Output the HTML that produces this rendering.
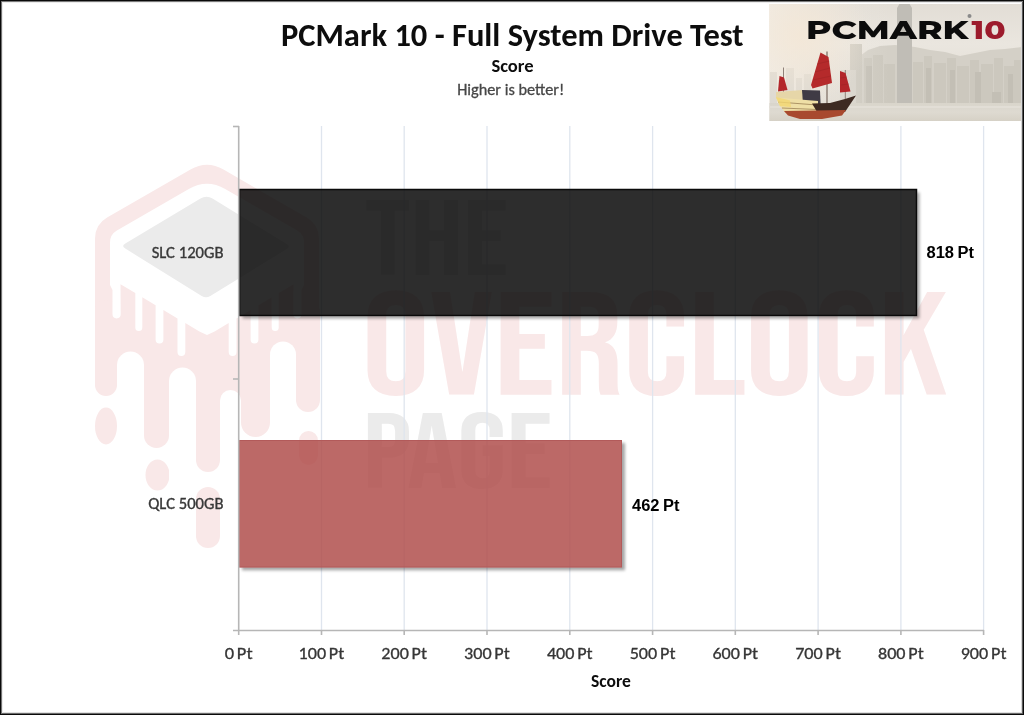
<!DOCTYPE html>
<html>
<head>
<meta charset="utf-8">
<title>PCMark 10 - Full System Drive Test</title>
<style>
html,body{margin:0;padding:0;background:#fff;}
body{width:1024px;height:715px;overflow:hidden;position:relative;}
svg{position:absolute;left:0;top:0;display:block;filter:blur(0.45px);}
.cal{font-family:Carlito,"Liberation Sans",sans-serif;}
.ari{font-family:"Liberation Sans",Arial,sans-serif;}
#frame{position:absolute;left:0;top:0;width:1024px;height:715px;box-sizing:border-box;
 border:1px solid #0a0a0a;
 box-shadow:inset 1px 0 0 #737373, inset 0 1px 0 #7a7a7a, inset -1px 0 0 #5a5a5a, inset 0 -1px 0 #6a6a6a,
  inset 2px 0 0 #ebebeb, inset 0 2px 0 #ececec, inset -2px 0 0 #d8d8d8, inset 0 -2px 0 #e0e0e0;pointer-events:none;}
</style>
</head>
<body>
<svg width="1024" height="715" viewBox="0 0 1024 715">
  <defs>
    <filter id="blur" x="-5%" y="-10%" width="110%" height="120%"><feGaussianBlur stdDeviation="1.6"/></filter>
    <clipPath id="outside"><path clip-rule="evenodd" d="M0,0H1024V715H0Z M239,189 H917.2 V316.2 H239 Z M239,440 H622 V567.3 H239 Z"/></clipPath>
  </defs>
  <rect x="0" y="0" width="1024" height="715" fill="#fff"/>
  <g id="wm">
    <g fill="#f9e8e8">
      <path d="M190.5,169.5 Q207.0,160.0 223.5,169.5 L306.9,217.6 Q319.0,224.6 319.0,238.6 L319.0,350.0 Q319.0,356.0 313.8,359.0 L212.2,417.0 Q207.0,420.0 201.8,417.0 L100.2,359.0 Q95.0,356.0 95.0,350.0 L95.0,238.6 Q95.0,224.6 107.1,217.6 Z"/>
      <rect x="95" y="300" width="22" height="96" rx="11"/>
      <rect x="144" y="300" width="25" height="148" rx="12.5"/>
      <rect x="196" y="300" width="24" height="172" rx="12"/>
      <rect x="241" y="300" width="29" height="137" rx="14.5"/>
      <rect x="296" y="300" width="24" height="112" rx="12"/>
      <ellipse cx="106" cy="426" rx="11" ry="18.5"/>
      <ellipse cx="157.5" cy="475" rx="12" ry="15.5"/>
      <rect x="196" y="487" width="24" height="61" rx="12"/>
      <rect x="299" y="431" width="19" height="34" rx="9.5"/>
    </g>
    <g fill="#fff">
      <path d="M117,500 L117,365 A13.5,13.5 0 0 1 144,365 L144,500 Z"/>
      <path d="M169,500 L169,381 A13.5,13.5 0 0 1 196,381 L196,500 Z"/>
      <path d="M220,500 L220,400.5 A10.5,10.5 0 0 1 241,400.5 L241,500 Z"/>
      <path d="M270,500 L270,354.5 A13,13 0 0 1 296,354.5 L296,500 Z"/>
      <path d="M110.0,242.5 Q110,234.5 116.9,230.5 L188.8,189.0 Q207,178.5 225.2,189.0 L297.1,230.5 Q304,234.5 304.0,242.5 L304,285 L301.5,290 L301.5,314.3 A4.1,4.1 0 0 1 293.3,314.3 L293.5,284.2 L278.7,293.1 L278.7,327.5 A3.5,3.5 0 0 1 271.7,327.5 L271.7,297.3 L258.4,305.3 L258.4,339.5 A3.9,3.9 0 0 1 250.6,339.5 L250.6,310.0 L236.5,318.4 L236.5,352 A3.9,3.9 0 0 1 228.7,352 L228.7,323.1 L214.6,331.6 L207,335 L199.4,331.6 L185.3,323.1 L185.3,352 A3.9,3.9 0 0 1 177.5,352 L177.5,318.4 L163.4,310.0 L163.4,339.5 A3.9,3.9 0 0 1 155.6,339.5 L155.6,305.3 L142.3,297.3 L142.3,327.5 A3.5,3.5 0 0 1 135.3,327.5 L135.3,293.1 L120.5,284.2 L120.7,314.3 A4.1,4.1 0 0 1 112.5,314.3 L112.5,290 L110,285 Z"/>
    </g>
    <path d="M200.5,198.6 Q206.5,195.0 212.5,198.6 L286.7,243.9 Q291.0,246.5 286.7,249.1 L210.3,295.9 Q206.0,298.5 201.7,295.9 L125.3,248.6 Q121.0,246.0 125.3,243.4 Z" fill="#ebebeb"/>
    <g font-family="'Bebas Neue','Liberation Sans',sans-serif" font-weight="400">
      <text x="365" y="275" font-size="106.5" fill="#ebebeb" textLength="143.2" lengthAdjust="spacingAndGlyphs">THE</text>
      <text x="362" y="394.5" font-size="146" fill="#f9e8e8" textLength="586" lengthAdjust="spacingAndGlyphs">OVERCLOCK</text>
      <text x="362.7" y="488" font-size="107" fill="#ebebeb" textLength="189.5" lengthAdjust="spacingAndGlyphs">PAGE</text>
    </g>
  </g>

  <!-- gridlines -->
  <g stroke="#dfe5ee" stroke-width="1.3">
    <line x1="321.5" y1="126" x2="321.5" y2="630"/>
    <line x1="404.2" y1="126" x2="404.2" y2="630"/>
    <line x1="487.0" y1="126" x2="487.0" y2="630"/>
    <line x1="569.8" y1="126" x2="569.8" y2="630"/>
    <line x1="652.6" y1="126" x2="652.6" y2="630"/>
    <line x1="735.3" y1="126" x2="735.3" y2="630"/>
    <line x1="818.1" y1="126" x2="818.1" y2="630"/>
    <line x1="900.9" y1="126" x2="900.9" y2="630"/>
    <line x1="983.6" y1="126" x2="983.6" y2="630"/>
  </g>

  <!-- bars -->
  <g clip-path="url(#outside)" fill="#000" opacity="0.35" filter="url(#blur)">
    <rect x="242.5" y="192.5" width="677" height="126"/>
    <rect x="242" y="443" width="383" height="127.3"/>
  </g>
  <rect x="239.5" y="189.5" width="677" height="126" fill="#020202" fill-opacity="0.83"/>
  <rect x="239.5" y="189.5" width="677" height="126" fill="none" stroke="#0a0a0a" stroke-width="1.5"/>
  <rect x="239" y="440" width="383" height="127.3" fill="#af4a48" fill-opacity="0.83"/>
  <rect x="239.5" y="440.5" width="382" height="126.5" fill="none" stroke="#b25a5a" stroke-width="1"/>

  <!-- axes -->
  <g stroke="#b6b6b6" stroke-width="1.6" fill="none">
    <line x1="238.7" y1="126" x2="238.7" y2="631"/>
    <line x1="233" y1="126.5" x2="239" y2="126.5"/>
    <line x1="233" y1="379" x2="239" y2="379"/>
    <line x1="233" y1="630.5" x2="984" y2="630.5"/>
  </g>
  <g stroke="#b6b6b6" stroke-width="1.6">
    <line x1="238.7" y1="630" x2="238.7" y2="635"/>
    <line x1="321.5" y1="630" x2="321.5" y2="635"/>
    <line x1="404.2" y1="630" x2="404.2" y2="635"/>
    <line x1="487.0" y1="630" x2="487.0" y2="635"/>
    <line x1="569.8" y1="630" x2="569.8" y2="635"/>
    <line x1="652.6" y1="630" x2="652.6" y2="635"/>
    <line x1="735.3" y1="630" x2="735.3" y2="635"/>
    <line x1="818.1" y1="630" x2="818.1" y2="635"/>
    <line x1="900.9" y1="630" x2="900.9" y2="635"/>
    <line x1="983.6" y1="630" x2="983.6" y2="635"/>
  </g>

  <!-- titles -->
  <text class="cal" x="512.3" y="46" font-size="32.5" font-weight="700" text-anchor="middle" fill="#0d0d0d" textLength="462.7" lengthAdjust="spacingAndGlyphs">PCMark 10 - Full System Drive Test</text>
  <text class="cal" x="512.5" y="71.8" font-size="18.6" font-weight="700" text-anchor="middle" fill="#0d0d0d" textLength="42.2" lengthAdjust="spacingAndGlyphs">Score</text>
  <text class="cal" x="510.7" y="94.8" font-size="16.3" text-anchor="middle" fill="#474747" stroke="#474747" stroke-width="0.3" textLength="107.1" lengthAdjust="spacingAndGlyphs">Higher is better!</text>

  <!-- category labels -->
  <text class="cal" x="223.5" y="257.8" font-size="16.6" text-anchor="end" fill="#383838" stroke="#383838" stroke-width="0.35" textLength="71.8" lengthAdjust="spacingAndGlyphs">SLC 120GB</text>
  <text class="cal" x="223.5" y="509" font-size="16.6" text-anchor="end" fill="#383838" stroke="#383838" stroke-width="0.35" textLength="75.3" lengthAdjust="spacingAndGlyphs">QLC 500GB</text>

  <!-- value labels -->
  <text class="ari" x="926.5" y="258.1" font-size="16" font-weight="700" fill="#000" word-spacing="-1" textLength="47.5" lengthAdjust="spacingAndGlyphs">818 Pt</text>
  <text class="ari" x="632" y="511" font-size="16" font-weight="700" fill="#000" word-spacing="-1" textLength="47.5" lengthAdjust="spacingAndGlyphs">462 Pt</text>

  <!-- tick labels -->
  <g class="cal" font-size="17" word-spacing="-1.3" text-anchor="middle" fill="#363636" stroke="#363636" stroke-width="0.3">
    <text x="238.7" y="658.5" textLength="28" lengthAdjust="spacingAndGlyphs">0 Pt</text>
    <text x="321.5" y="658.5" textLength="45.8" lengthAdjust="spacingAndGlyphs">100 Pt</text>
    <text x="404.2" y="658.5" textLength="45.8" lengthAdjust="spacingAndGlyphs">200 Pt</text>
    <text x="487.0" y="658.5" textLength="45.8" lengthAdjust="spacingAndGlyphs">300 Pt</text>
    <text x="569.8" y="658.5" textLength="45.8" lengthAdjust="spacingAndGlyphs">400 Pt</text>
    <text x="652.6" y="658.5" textLength="45.8" lengthAdjust="spacingAndGlyphs">500 Pt</text>
    <text x="735.3" y="658.5" textLength="45.8" lengthAdjust="spacingAndGlyphs">600 Pt</text>
    <text x="818.1" y="658.5" textLength="45.8" lengthAdjust="spacingAndGlyphs">700 Pt</text>
    <text x="900.9" y="658.5" textLength="45.8" lengthAdjust="spacingAndGlyphs">800 Pt</text>
    <text x="983.6" y="658.5" textLength="45.8" lengthAdjust="spacingAndGlyphs">900 Pt</text>
  </g>
  <text class="cal" x="611" y="687" font-size="17.5" font-weight="700" text-anchor="middle" fill="#0d0d0d" textLength="39.8" lengthAdjust="spacingAndGlyphs">Score</text>

  <!-- WATERMARK -->

  <!-- LOGO -->
  <g id="logo">
    <defs>
      <clipPath id="lc"><rect x="769" y="4" width="252.5" height="117"/></clipPath>
      <linearGradient id="sky" x1="0" y1="0" x2="0" y2="1">
        <stop offset="0" stop-color="#e2ddd5"/>
        <stop offset="0.35" stop-color="#eae6df"/>
        <stop offset="0.85" stop-color="#dfdad1"/>
        <stop offset="1" stop-color="#d8d3c9"/>
      </linearGradient>
      <radialGradient id="glow" cx="800" cy="35" r="70" gradientUnits="userSpaceOnUse">
        <stop offset="0" stop-color="#f4e7d6" stop-opacity="0.85"/>
        <stop offset="1" stop-color="#f4e7d6" stop-opacity="0"/>
      </radialGradient>
      <linearGradient id="skyl" x1="0" y1="0" x2="1" y2="0">
        <stop offset="0" stop-color="#f1ede6" stop-opacity="0.9"/>
        <stop offset="0.35" stop-color="#f1ede6" stop-opacity="0.4"/>
        <stop offset="1" stop-color="#f1ede6" stop-opacity="0"/>
      </linearGradient>
      <linearGradient id="water" x1="0" y1="0" x2="0" y2="1">
        <stop offset="0" stop-color="#d9d5cb"/>
        <stop offset="0.5" stop-color="#dedad1"/>
        <stop offset="1" stop-color="#d6d1c6"/>
      </linearGradient>
    </defs>
    <g clip-path="url(#lc)">
      <rect x="769.5" y="3" width="252" height="118" fill="url(#sky)"/>
      <!-- hills -->
      <path d="M858,104 L860,56 L868,50 L880,46 L895,45 L915,47 L930,50 L945,52 L960,56 L975,53 L990,50 L1005,49 L1022,47 L1022,104 Z" fill="#d4d0c7"/>
      <!-- far buildings -->
      <g fill="#ccc8be">
        <rect x="850" y="44" width="12" height="60"/>
        <rect x="864" y="58" width="8" height="46"/>
        <rect x="873" y="55" width="10" height="49"/>
        <rect x="884" y="64" width="11" height="40"/>
        <rect x="913" y="62" width="10" height="42"/>
        <rect x="924" y="56" width="8" height="48"/>
        <rect x="934" y="63" width="12" height="41"/>
        <rect x="947" y="58" width="9" height="46"/>
        <rect x="957" y="66" width="12" height="38"/>
        <rect x="970" y="60" width="9" height="44"/>
        <rect x="981" y="64" width="12" height="40"/>
        <rect x="994" y="58" width="9" height="46"/>
        <rect x="1004" y="66" width="10" height="38"/>
        <rect x="1014" y="60" width="8" height="44"/>
      </g>
      <g fill="#c3bfb5">
        <rect x="866" y="66" width="6" height="38"/>
        <rect x="926" y="68" width="5" height="36"/>
        <rect x="950" y="70" width="5" height="34"/>
        <rect x="975" y="72" width="6" height="32"/>
        <rect x="992" y="92" width="9" height="12"/>
        <rect x="1008" y="74" width="5" height="30"/>
      </g>
      <!-- tower -->
      <path d="M897,104 L897,8 L900,3 L909,3 L912,8 L912,104 Z" fill="#c0bdb6"/>
      <rect x="840" y="70" width="16" height="34" fill="#d6d2c9"/>
      <rect x="769.5" y="3" width="120" height="101" fill="url(#skyl)"/>
      <g fill="#dedad2">
        <rect x="770" y="72" width="7" height="32"/>
        <rect x="778" y="80" width="6" height="24"/>
        <rect x="786" y="68" width="8" height="36"/>
        <rect x="796" y="78" width="6" height="26"/>
        <rect x="804" y="74" width="7" height="30"/>
      </g>
      <rect x="769" y="3" width="160" height="100" fill="url(#glow)"/>
      <!-- water -->
      <rect x="769.5" y="103" width="252" height="18" fill="url(#water)"/>
      <rect x="769.5" y="106" width="252" height="2" fill="#e2ded6"/>
      <!-- boat -->
      <g>
        <line x1="783.5" y1="67.5" x2="783.5" y2="93" stroke="#8f8178" stroke-width="1"/>
        <line x1="827" y1="51.5" x2="827" y2="104" stroke="#7a6a60" stroke-width="1.2"/>
        <line x1="845.3" y1="70" x2="845.3" y2="100" stroke="#8f8178" stroke-width="1"/>
        <path d="M779.5,76 L784,77.5 L787.5,90 L778,91.5 Z" fill="#b3262a"/>
        <path d="M820.5,52.5 L828.5,57 L832,83 L812.5,88.5 L811,85 Z" fill="#b52a2b"/>
        <path d="M840,71 L845.5,73 L850.5,91.5 L840,92.5 Z" fill="#b3262a"/>
        <g stroke="#8a2020" stroke-width="0.5" opacity="0.6">
          <line x1="813" y1="80" x2="831" y2="76"/><line x1="815" y1="72" x2="830" y2="68"/><line x1="817" y1="64" x2="829.5" y2="61"/>
          <line x1="841" y1="85" x2="849" y2="84"/><line x1="840.5" y1="78" x2="847" y2="77"/>
        </g>
        <path d="M776,92 L803,90 L803,100 L776,99 Z" fill="#e6d6a8"/>
        <path d="M802,90 L820,90.5 L820.6,104 L803,104 Z" fill="#3f3b45"/>
        <path d="M776,97.5 L818,101 L818,113 L800,116 L786,113.5 L779,105 Z" fill="#efdfa6"/>
        <g stroke="#7a5a34" stroke-width="0.8" opacity="0.7">
          <line x1="778" y1="102" x2="817" y2="105"/><line x1="782" y1="108" x2="817" y2="109.5"/>
        </g>
        <path d="M812,103.5 L830,103 L845,99 L856,95.5 L851,103 L845,112 L818,113.5 Z" fill="#3d2a22"/>
        <path d="M784,111 L846,110 L842,115.5 L822,119 L800,119 L788,115.5 Z" fill="#a8492f"/>
        <path d="M776,97 L790,100.5 L791,107 L780,106 Z" fill="#f2d772" opacity="0.8"/>
      </g>
      <!-- PCMARK text -->
      <text x="806" y="39" font-family="Montserrat,'Liberation Sans',sans-serif" font-weight="800" font-size="25" fill="#0c0c0c" textLength="162.5" lengthAdjust="spacingAndGlyphs">PCMARK</text>
      <text x="971.5" y="39" font-family="Montserrat,'Liberation Sans',sans-serif" font-weight="800" font-size="25" fill="#9c1b2c" textLength="34" lengthAdjust="spacingAndGlyphs">10</text>
      <circle cx="969.5" cy="16" r="2" fill="#8a8a8a"/>
    </g>
  </g>
</svg>
<div id="frame"></div>
</body>
</html>
